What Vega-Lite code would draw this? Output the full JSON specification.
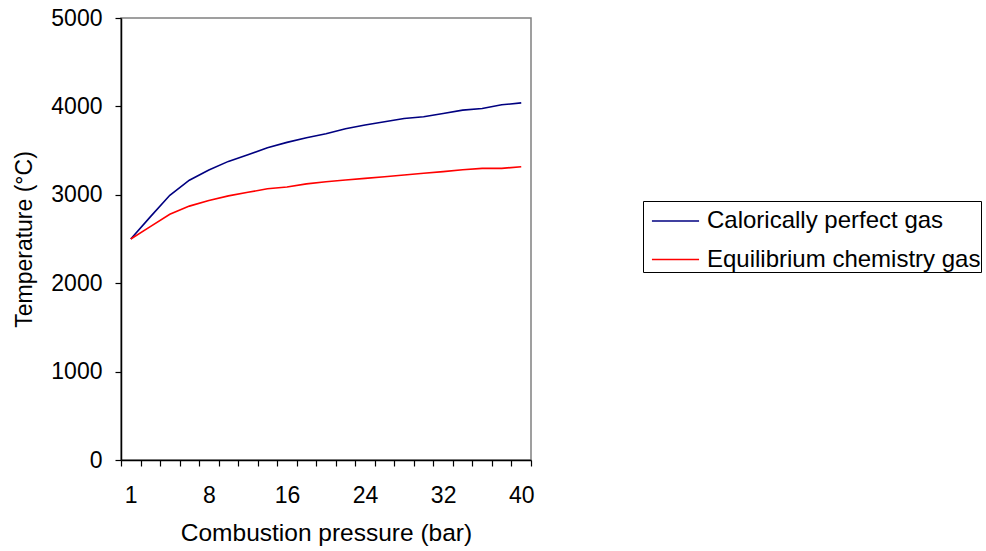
{
  "$schema": "https://vega.github.io/schema/vega-lite/v6.json",
  "width": 410,
  "height": 442,
  "autosize": "none",
  "padding": {"left": 121, "top": 18, "right": 455, "bottom": 91},
  "background": "white",
  "config": {
    "font": "Liberation Sans",
    "view": {"stroke": "#808080", "strokeWidth": 1.5},
    "axis": {"domainColor": "black", "tickColor": "black", "labelColor": "black", "titleColor": "black", "labelFont": "Liberation Sans", "titleFont": "Liberation Sans", "titleFontWeight": "normal", "grid": false, "domainWidth": 1.5, "tickWidth": 1.2}
  },
  "data": {
    "values": [
      {"p": 1, "gas": "Calorically perfect gas", "T": 2500},
      {"p": 2, "gas": "Calorically perfect gas", "T": 2750},
      {"p": 4, "gas": "Calorically perfect gas", "T": 2995},
      {"p": 6, "gas": "Calorically perfect gas", "T": 3165},
      {"p": 8, "gas": "Calorically perfect gas", "T": 3280},
      {"p": 10, "gas": "Calorically perfect gas", "T": 3378},
      {"p": 12, "gas": "Calorically perfect gas", "T": 3453},
      {"p": 14, "gas": "Calorically perfect gas", "T": 3533},
      {"p": 16, "gas": "Calorically perfect gas", "T": 3593},
      {"p": 18, "gas": "Calorically perfect gas", "T": 3646},
      {"p": 20, "gas": "Calorically perfect gas", "T": 3690},
      {"p": 22, "gas": "Calorically perfect gas", "T": 3747},
      {"p": 24, "gas": "Calorically perfect gas", "T": 3789},
      {"p": 26, "gas": "Calorically perfect gas", "T": 3826},
      {"p": 28, "gas": "Calorically perfect gas", "T": 3864},
      {"p": 30, "gas": "Calorically perfect gas", "T": 3883},
      {"p": 32, "gas": "Calorically perfect gas", "T": 3920},
      {"p": 34, "gas": "Calorically perfect gas", "T": 3958},
      {"p": 36, "gas": "Calorically perfect gas", "T": 3977},
      {"p": 38, "gas": "Calorically perfect gas", "T": 4018},
      {"p": 40, "gas": "Calorically perfect gas", "T": 4040},
      {"p": 1, "gas": "Equilibrium chemistry gas", "T": 2500},
      {"p": 2, "gas": "Equilibrium chemistry gas", "T": 2640},
      {"p": 4, "gas": "Equilibrium chemistry gas", "T": 2780},
      {"p": 6, "gas": "Equilibrium chemistry gas", "T": 2872},
      {"p": 8, "gas": "Equilibrium chemistry gas", "T": 2936},
      {"p": 10, "gas": "Equilibrium chemistry gas", "T": 2988},
      {"p": 12, "gas": "Equilibrium chemistry gas", "T": 3028},
      {"p": 14, "gas": "Equilibrium chemistry gas", "T": 3068},
      {"p": 16, "gas": "Equilibrium chemistry gas", "T": 3089},
      {"p": 18, "gas": "Equilibrium chemistry gas", "T": 3124},
      {"p": 20, "gas": "Equilibrium chemistry gas", "T": 3148},
      {"p": 22, "gas": "Equilibrium chemistry gas", "T": 3168},
      {"p": 24, "gas": "Equilibrium chemistry gas", "T": 3186},
      {"p": 26, "gas": "Equilibrium chemistry gas", "T": 3205},
      {"p": 28, "gas": "Equilibrium chemistry gas", "T": 3224},
      {"p": 30, "gas": "Equilibrium chemistry gas", "T": 3243},
      {"p": 32, "gas": "Equilibrium chemistry gas", "T": 3262},
      {"p": 34, "gas": "Equilibrium chemistry gas", "T": 3284},
      {"p": 36, "gas": "Equilibrium chemistry gas", "T": 3299},
      {"p": 38, "gas": "Equilibrium chemistry gas", "T": 3299},
      {"p": 40, "gas": "Equilibrium chemistry gas", "T": 3318}
    ]
  },
  "mark": {"type": "line", "strokeWidth": 1.6},
  "encoding": {
    "x": {
      "field": "p",
      "type": "ordinal",
      "scale": {"type": "band", "paddingInner": 0, "paddingOuter": 0},
      "axis": {
        "title": "Combustion pressure (bar)",
        "labelAngle": 0,
        "labelFontSize": 23,
        "titleFontSize": 24.5,
        "tickBand": "extent",
        "tickSize": 6,
        "labelPadding": 18,
        "labelOverlap": false,
        "labelExpr": "indexof([1,8,16,24,32,40], datum.value) >= 0 ? datum.label : ''",
        "titleY": 73,
        "titleBaseline": "middle"
      }
    },
    "y": {
      "field": "T",
      "type": "quantitative",
      "scale": {"domain": [0, 5000], "nice": false},
      "axis": {
        "title": "Temperature (°C)",
        "values": [0, 1000, 2000, 3000, 4000, 5000],
        "format": "d",
        "labelFontSize": 23,
        "titleFontSize": 23,
        "tickSize": 6,
        "labelPadding": 13,
        "titleX": -97,
        "titleY": 221,
        "titleAngle": -90,
        "titleAlign": "center",
        "titleBaseline": "middle"
      }
    },
    "color": {
      "field": "gas",
      "type": "nominal",
      "scale": {"domain": ["Calorically perfect gas", "Equilibrium chemistry gas"], "range": ["#000080", "#FF0000"]},
      "legend": {
        "title": null,
        "orient": "none",
        "legendX": 522,
        "legendY": 183,
        "strokeColor": "black",
        "padding": 0,
        "symbolType": "M-1.24,0H1.24",
        "symbolSize": 1444,
        "symbolStrokeWidth": 1.6,
        "symbolOffset": 12.5,
        "labelFontSize": 24,
        "labelFont": "Liberation Sans",
        "labelColor": "black",
        "labelLimit": 400,
        "rowPadding": 6.5,
        "labelOffset": 11.5
      }
    }
  }
}
